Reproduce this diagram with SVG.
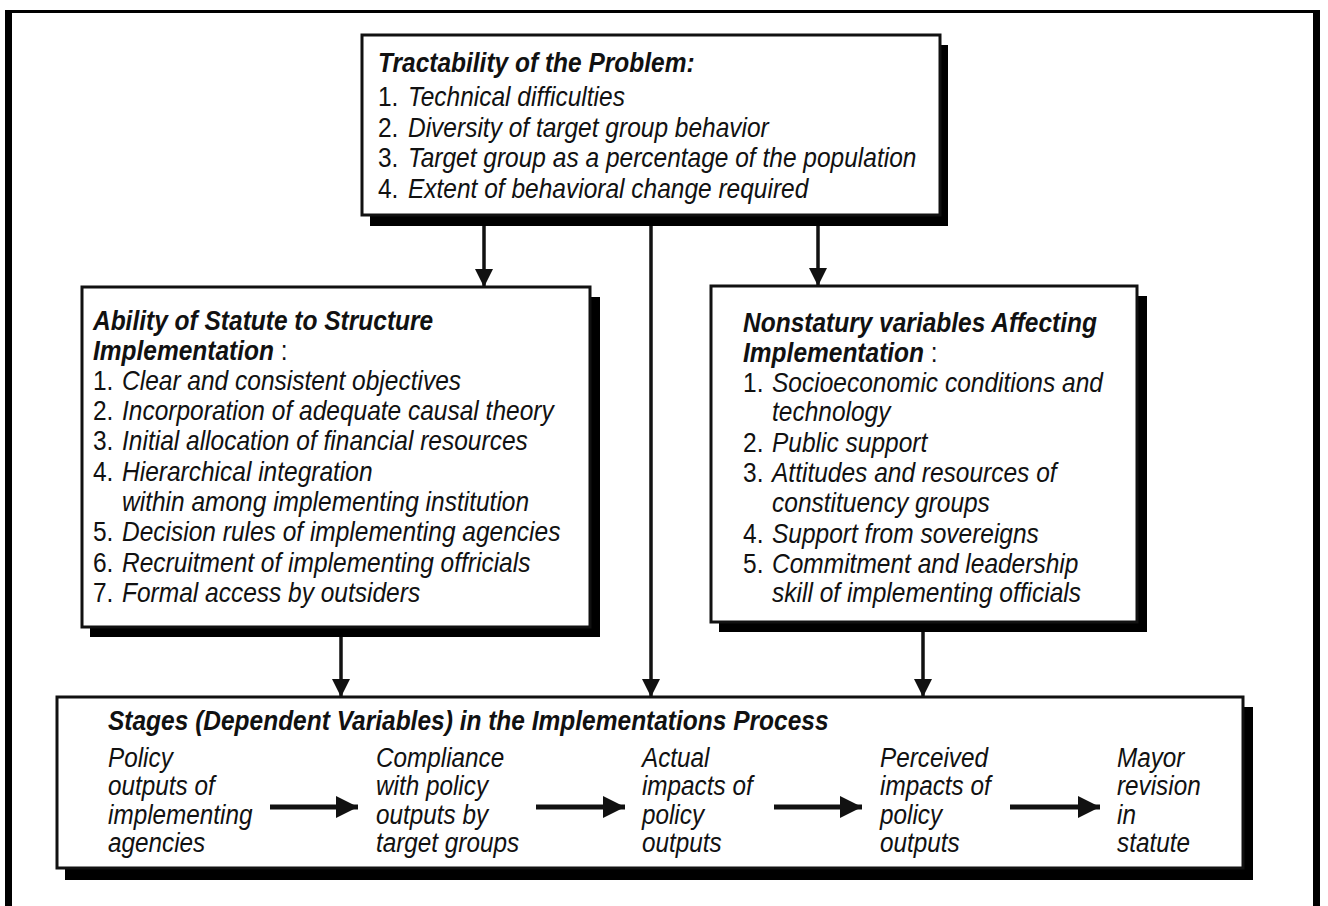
<svg xmlns="http://www.w3.org/2000/svg" width="1328" height="906" viewBox="0 0 1328 906">
<defs>
<style>
.t{font-family:"Liberation Sans",Arial,sans-serif;font-size:28.5px;fill:#111;}
.s{font-family:"Liberation Sans",Arial,sans-serif;font-size:27px;fill:#111;font-style:italic;}
.b{font-weight:bold;font-style:italic;}
.i{font-style:italic;}
.box{fill:#fff;stroke:#111;stroke-width:3;}
.sh{fill:#000;}
.ln{stroke:#111;stroke-width:3.5;fill:none;}
.hl{stroke:#111;stroke-width:5;fill:none;}
</style>
<marker id="ah" viewBox="0 0 10 10" refX="10" refY="5" markerWidth="18" markerHeight="20" markerUnits="userSpaceOnUse" orient="auto">
<path d="M0,0 L10,5 L0,10 z" fill="#111"/>
</marker>
<marker id="ah2" viewBox="0 0 10 10" refX="10" refY="5" markerWidth="22" markerHeight="25" markerUnits="userSpaceOnUse" orient="auto">
<path d="M0,0 L10,5 L0,10 z" fill="#111"/>
</marker>
</defs>
<rect x="0" y="0" width="1328" height="906" fill="#fff"/>
<rect x="5" y="10" width="7" height="900" fill="#000"/>
<rect x="1313" y="10" width="7" height="900" fill="#000"/>
<rect x="5" y="10" width="1315" height="3" fill="#000"/>

<g id="tractability">
<rect class="sh" x="370" y="45" width="578" height="181"/>
<rect class="box" x="362" y="35" width="578" height="180"/>
<g transform="scale(0.86 1)">
<text class="t b" x="439.5" y="72">Tractability of the Problem:</text>
<text class="t" x="439.5" y="106">1. <tspan class="i" x="474.4">Technical difficulties</tspan></text>
<text class="t" x="439.5" y="137">2. <tspan class="i" x="474.4">Diversity of target group behavior</tspan></text>
<text class="t" x="439.5" y="167">3. <tspan class="i" x="474.4">Target group as a percentage of the population</tspan></text>
<text class="t" x="439.5" y="198">4. <tspan class="i" x="474.4">Extent of behavioral change required</tspan></text>
</g>
</g>

<g id="statute">
<rect class="sh" x="90" y="297" width="510" height="340"/>
<rect class="box" x="82" y="287" width="508" height="340"/>
<g transform="scale(0.86 1)">
<text class="t b" x="108.1" y="330">Ability of Statute to Structure</text>
<text class="t" x="108.1" y="360"><tspan class="b">Implementation</tspan> :</text>
<text class="t" x="108.1" y="390">1. <tspan class="i" x="141.9">Clear and consistent objectives</tspan></text>
<text class="t" x="108.1" y="420">2. <tspan class="i" x="141.9">Incorporation of adequate causal theory</tspan></text>
<text class="t" x="108.1" y="450">3. <tspan class="i" x="141.9">Initial allocation of financial resources</tspan></text>
<text class="t" x="108.1" y="481">4. <tspan class="i" x="141.9">Hierarchical integration</tspan></text>
<text class="t i" x="141.9" y="511">within among implementing institution</text>
<text class="t" x="108.1" y="541">5. <tspan class="i" x="141.9">Decision rules of implementing agencies</tspan></text>
<text class="t" x="108.1" y="572">6. <tspan class="i" x="141.9">Recruitment of implementing offricials</tspan></text>
<text class="t" x="108.1" y="602">7. <tspan class="i" x="141.9">Formal access by outsiders</tspan></text>
</g>
</g>

<g id="nonstatutory">
<rect class="sh" x="719" y="296" width="428" height="336"/>
<rect class="box" x="711" y="286" width="426" height="336"/>
<g transform="scale(0.86 1)">
<text class="t b" x="864" y="332">Nonstatury variables Affecting</text>
<text class="t" x="864" y="362"><tspan class="b">Implementation</tspan> :</text>
<text class="t" x="864" y="392">1. <tspan class="i" x="897.7">Socioeconomic conditions and</tspan></text>
<text class="t i" x="897.7" y="421">technology</text>
<text class="t" x="864" y="452">2. <tspan class="i" x="897.7">Public support</tspan></text>
<text class="t" x="864" y="482">3. <tspan class="i" x="897.7">Attitudes and resources of</tspan></text>
<text class="t i" x="897.7" y="512">constituency groups</text>
<text class="t" x="864" y="543">4. <tspan class="i" x="897.7">Support from sovereigns</tspan></text>
<text class="t" x="864" y="573">5. <tspan class="i" x="897.7">Commitment and leadership</tspan></text>
<text class="t i" x="897.7" y="602">skill of implementing officials</text>
</g>
</g>

<g id="stages">
<rect class="sh" x="65" y="707" width="1188" height="173"/>
<rect class="box" x="57" y="697" width="1186" height="171"/>
<g transform="scale(0.86 1)">
<text class="t b" x="125.6" y="730">Stages (Dependent Variables) in the Implementations Process</text>
</g>
</g>
<g id="stage1" transform="scale(0.9 1)">
<text class="s" x="120" y="767">Policy</text>
<text class="s" x="120" y="795.5">outputs of</text>
<text class="s" x="120" y="824">implementing</text>
<text class="s" x="120" y="852.5">agencies</text>
</g>
<g id="stage2" transform="scale(0.9 1)">
<text class="s" x="417.8" y="767">Compliance</text>
<text class="s" x="417.8" y="795.5">with policy</text>
<text class="s" x="417.8" y="824">outputs by</text>
<text class="s" x="417.8" y="852.5">target groups</text>
</g>
<g id="stage3" transform="scale(0.9 1)">
<text class="s" x="713.3" y="767">Actual</text>
<text class="s" x="713.3" y="795.5">impacts of</text>
<text class="s" x="713.3" y="824">policy</text>
<text class="s" x="713.3" y="852.5">outputs</text>
</g>
<g id="stage4" transform="scale(0.9 1)">
<text class="s" x="977.8" y="767">Perceived</text>
<text class="s" x="977.8" y="795.5">impacts of</text>
<text class="s" x="977.8" y="824">policy</text>
<text class="s" x="977.8" y="852.5">outputs</text>
</g>
<g id="stage5" transform="scale(0.9 1)">
<text class="s" x="1241.1" y="767">Mayor</text>
<text class="s" x="1241.1" y="795.5">revision</text>
<text class="s" x="1241.1" y="824">in</text>
<text class="s" x="1241.1" y="852.5">statute</text>
</g>

<g id="connectors">
<line class="ln" x1="484" y1="226" x2="484" y2="287" marker-end="url(#ah)"/>
<line class="ln" x1="818" y1="226" x2="818" y2="286" marker-end="url(#ah)"/>
<line class="ln" x1="651" y1="226" x2="651" y2="697" marker-end="url(#ah)"/>
<line class="ln" x1="341" y1="637" x2="341" y2="697" marker-end="url(#ah)"/>
<line class="ln" x1="923" y1="632" x2="923" y2="697" marker-end="url(#ah)"/>
<line class="hl" x1="270" y1="807" x2="358" y2="807" marker-end="url(#ah2)"/>
<line class="hl" x1="536" y1="807" x2="625" y2="807" marker-end="url(#ah2)"/>
<line class="hl" x1="774" y1="807" x2="862" y2="807" marker-end="url(#ah2)"/>
<line class="hl" x1="1010" y1="807" x2="1100" y2="807" marker-end="url(#ah2)"/>
</g>
</svg>
